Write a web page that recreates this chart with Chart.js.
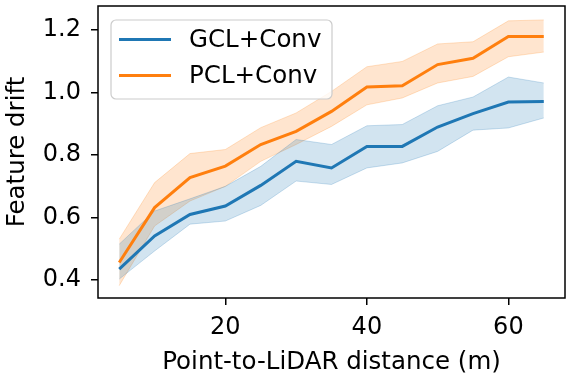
<!DOCTYPE html>
<html lang="en">
<head>
    <meta charset="UTF-8">
    <title>Feature drift vs distance</title>
    <script src="https://cdn.jsdelivr.net/npm/chart.js"></script>
    <style>
        body {
            margin: 0;
            background: #fff;
        }
        #chartBox {
            width: 582px;
            height: 380px;
        }
    </style>
</head>
<body>
    <div id="chartBox">
        <canvas id="driftChart" width="582" height="380"></canvas>
    </div>

    <script>
        // distances (m) and feature drift values
        const distances = [5, 10, 15, 20, 25, 30, 35, 40, 45, 50, 55, 60, 65];

        const gclMean  = [0.435, 0.541, 0.610, 0.637, 0.703, 0.780, 0.759, 0.828, 0.828, 0.890, 0.933, 0.970, 0.972];
        const gclUpper = [0.515, 0.621, 0.660, 0.700, 0.764, 0.850, 0.834, 0.894, 0.898, 0.958, 0.986, 1.050, 1.031];
        const gclLower = [0.403, 0.493, 0.579, 0.589, 0.639, 0.717, 0.706, 0.759, 0.775, 0.812, 0.880, 0.887, 0.919];

        const pclMean  = [0.456, 0.632, 0.728, 0.765, 0.834, 0.876, 0.940, 1.018, 1.022, 1.090, 1.110, 1.180, 1.180];
        const pclUpper = [0.531, 0.712, 0.805, 0.818, 0.888, 0.935, 1.004, 1.083, 1.100, 1.156, 1.163, 1.230, 1.233];
        const pclLower = [0.382, 0.573, 0.653, 0.700, 0.780, 0.834, 0.892, 0.961, 0.983, 1.031, 1.052, 1.115, 1.130];

        const xTicks = [20, 40, 60];
        const yTicks = [0.4, 0.6, 0.8, 1.0, 1.2];

        const BLUE = '#1f77b4';
        const ORANGE = '#ff7f0e';
        const FONT = '"DejaVu Sans", sans-serif';

        function pts(ys) {
            return distances.map((x, i) => ({ x: x, y: ys[i] }));
        }

        function band(ys, color, fill) {
            return {
                data: pts(ys),
                borderColor: color + '38',
                backgroundColor: color + '33',
                borderWidth: 1,
                pointRadius: 0,
                fill: fill,
                order: 2
            };
        }

        // frame around the plot area, like matplotlib's spines
        const frame = {
            id: 'frame',
            afterDatasetsDraw(chart) {
                const a = chart.chartArea;
                const ctx = chart.ctx;
                ctx.save();
                ctx.strokeStyle = '#000';
                ctx.lineWidth = 1.5;
                ctx.strokeRect(a.left, a.top, a.right - a.left, a.bottom - a.top);
                ctx.restore();
            }
        };

        // legend box in upper-left corner of the axes
        const boxLegend = {
            id: 'boxLegend',
            afterDraw(chart) {
                const ctx = chart.ctx;
                const items = [['GCL+Conv', BLUE], ['PCL+Conv', ORANGE]];
                ctx.save();
                ctx.beginPath();
                ctx.roundRect(111, 20, 221, 79, 5);
                ctx.fillStyle = 'rgba(255,255,255,0.8)';
                ctx.fill();
                ctx.strokeStyle = '#cccccc';
                ctx.lineWidth = 1.2;
                ctx.stroke();
                ctx.font = '24.5px ' + FONT;
                ctx.textBaseline = 'middle';
                items.forEach((it, i) => {
                    const y = 39.5 + i * 36;
                    ctx.strokeStyle = it[1];
                    ctx.lineWidth = 3;
                    ctx.beginPath();
                    ctx.moveTo(119, y);
                    ctx.lineTo(171, y);
                    ctx.stroke();
                    ctx.fillStyle = '#000';
                    ctx.fillText(it[0], 189, y + 1);
                });
                ctx.restore();
            }
        };

        new Chart(document.getElementById('driftChart'), {
            type: 'line',
            data: {
                datasets: [
                    { label: 'GCL+Conv', data: pts(gclMean), borderColor: BLUE, borderWidth: 3, pointRadius: 0, fill: false, order: 0 },
                    { label: 'PCL+Conv', data: pts(pclMean), borderColor: ORANGE, borderWidth: 3, pointRadius: 0, fill: false, order: 0 },
                    band(gclLower, BLUE, false),
                    band(gclUpper, BLUE, '-1'),
                    band(pclLower, ORANGE, false),
                    band(pclUpper, ORANGE, '-1')
                ]
            },
            options: {
                responsive: false,
                animation: false,
                layout: { padding: { top: 6, right: 17, left: 0, bottom: 0 } },
                plugins: {
                    legend: { display: false },
                    tooltip: { enabled: false }
                },
                scales: {
                    x: {
                        type: 'linear',
                        min: 2,
                        max: 68,
                        afterBuildTicks(scale) {
                            scale.ticks = xTicks.map(v => ({ value: v }));
                        },
                        afterFit(scale) {
                            scale.height = 82;
                            scale.paddingLeft = 0;
                            scale.paddingRight = 0;
                        },
                        grid: { drawOnChartArea: false, drawTicks: true, tickLength: 7, color: '#000', lineWidth: 1.5 },
                        border: { display: false },
                        ticks: { color: '#000', padding: 8, maxRotation: 0, font: { family: FONT, size: 24 } },
                        title: {
                            display: true,
                            text: 'Point-to-LiDAR distance (m)',
                            color: '#000',
                            padding: { top: 0, bottom: 3 },
                            font: { family: FONT, size: 24.5 }
                        }
                    },
                    y: {
                        min: 0.3425,
                        max: 1.2775,
                        afterBuildTicks(scale) {
                            scale.ticks = yTicks.map(v => ({ value: v }));
                        },
                        afterFit(scale) {
                            scale.width = 98;
                            scale.paddingTop = 0;
                            scale.paddingBottom = 0;
                        },
                        grid: { drawOnChartArea: false, drawTicks: true, tickLength: 7, color: '#000', lineWidth: 1.5 },
                        border: { display: false },
                        ticks: {
                            color: '#000',
                            padding: 10,
                            font: { family: FONT, size: 24 },
                            callback: v => v.toFixed(1)
                        },
                        title: {
                            display: true,
                            text: 'Feature drift',
                            color: '#000',
                            padding: { top: 3, bottom: 0 },
                            font: { family: FONT, size: 24.5 }
                        }
                    }
                }
            },
            plugins: [frame, boxLegend]
        });
    </script>
</body>
</html>
